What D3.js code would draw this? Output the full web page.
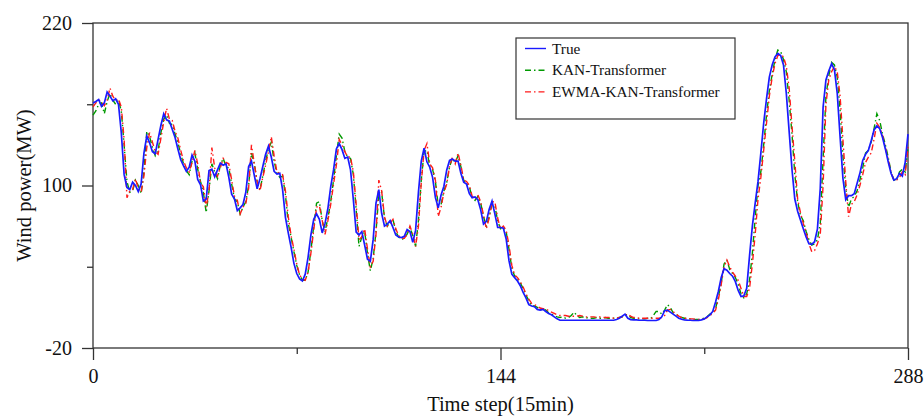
<!DOCTYPE html>
<style>
body { margin: 0; background: #fff; }
svg { font-family: "Liberation Serif", "Times New Roman", serif; }
</style>
<svg width="924" height="416"></svg>
<script src="https://d3js.org/d3.v7.min.js"></script>
<script>

// wind power (MW), one value per 15-min step, 0..288
var trueVals = [161,162,163.5,158.5,161,169,166,162.5,164,160,139,108,98.5,97,102.5,100,95.5,101,124,136.5,
  131.5,125,123.5,134,144.5,153,148.5,147.5,141.5,135.5,127,119,114.5,110.5,113.5,122.5,118,104.5,100.5,88.5,
  90,111,112,106.5,111.5,116.5,115,116,106,93.5,90,81.5,83.5,86,95,114,118,107.5,97.5,105,
  114,123,129,121,110.5,108.5,109,97,76.5,65,54.5,42.5,35,31,29.5,34.5,47,63.5,75,79,
  75,65,72,83,99,111.5,127,131,126.5,120,121,111.5,89.5,65.5,63.5,66,56,45.5,44,60,
  87,97,79.5,70,71.5,74,69,63.5,62,61.5,62.5,67.5,66,58,67,95,118,127.5,117.5,113.5,
  106,91,83.5,93,99.5,111.5,118.5,119.5,118,118,109,102.5,101,94,91,91.5,89.5,82,71.5,73.5,
  82.5,88.5,79,69,69,68.5,60.5,44.5,34.5,32,29.5,26,21,17,12,11,10.5,8.5,8,8.5,
  7,5.5,4.5,3,1.5,0.5,0.5,0.5,0.5,0.5,0.5,0.5,0.5,0.5,0.5,0.5,0.5,0.5,0.5,0.5,
  0.5,0.5,0.5,0.5,0.5,1,2,3.5,5,2,1,0.8,0.8,0.5,0.5,0.5,0.3,0.3,0.3,0.3,
  1,3,7.5,8,6.5,5,3.5,2,1.2,0.8,0.6,0.5,0.3,0.3,0.3,0.8,1.5,3,4.5,7,
  14,22,32,38.5,37.5,35,33,29,22.5,18,18.5,24,48,70,87,103,124,146,164,180,
  189,195,197.5,196,189,168,140,112,90,81,74.5,68,62,57,56.5,58.5,68,98,158,178,
  184.5,190,185.5,168,136,105.5,89.5,92.5,92.5,94,101.5,109,118.5,123,126,133,141,144,142,135.5,
  127,117.5,109,104,105,109,107,117,138];

var kanVals = [152,155,160,161,153,162,168,163,160,163,155,130,103,95,96,104,100,94,110,140,
  136,128,122,126,139,149,152,146,145,138,132,123,116,111,108,118,124,112,103,95,
  80,96,116,110,105,115,120,114,113,101,90,88,79,84,88,100,124,116,103,97,
  107,118,127,132,118,109,106,107,93,72,62,51,41,34,30,30,36,52,70,87,
  88,74,66,76,88,104,122,138,135,125,121,120,108,82,55,62,66,50,37,46,
  66,93,95,76,70,73,75,66,62,60,61,64,69,63,55,74,104,125,126,114,
  112,103,85,86,96,102,114,120,117,122,114,104,101,99,91,89,92,87,77,70,
  77,86,85,74,68,69,66,53,39,33,31,28,24,19,15,11,11,10,8,9,
  8,6,5,4,3,2.5,3,2,2.5,4,6.5,4,2.5,3,2,2.5,2,2,2.5,2,
  2,2.5,2,2,2,2,2.5,3,4.5,4.5,2.5,2,2,1.5,1.5,1.5,2,1.5,4,7,
  7,5,8,12,10,6,5,3.5,2.5,2,1.5,1.5,1.5,1,1,1.5,2,3,5,6,
  9,18,28,42,45,38,35,32,27,20,17,20,30,50,76,100,110,130,152,170,
  182,193,200,199,193,184,163,138,108,88,78,74,66,60,56,57,60,72,120,166,
  181,191,189,180,156,122,98,84,90,92,96,104,113,124,126,132,142,153,148,138,
  130,121,110,104,104,110,112,110,128];

var ewmaVals = [158,161,163,162,159,163,172,166,163,164,158,134,91,96,97,105,98,95,107,128,
  139,132,125,123,135,147,157,149,148,140,135,126,118,113,110,117,126,116,102,99,
  84,96,128,113,107,113,120,117,116,104,92,89,79,84,87,98,130,116,103,96,
  106,115,125,136,122,110,109,108,96,77,63,53,42,34,31,30,36,50,67,84,
  85,74,64,74,86,101,115,134,130,125,121,121,110,86,60,62,68,53,40,44,
  64,104,96,77,70,72,75,68,63,61,61,64,70,64,55,70,102,126,131,116,
  113,104,77,84,95,101,114,121,116,124,115,104,103,100,92,90,93,88,78,68,
  76,88,88,76,68,70,67,56,41,34,32,29,25,20,16,13,12,11,9.5,9,
  9,7.5,6.5,5.5,4.5,4,4,4,3.5,3.5,3.5,3.5,4,3.5,3,3,3,3,2.5,3,
  2.5,2.5,2.5,2.5,2,2,2.5,3,4,5,3.5,2.5,2.5,2,2,2,2,2,2,2,
  2,2.5,4,8,8.5,7,5,3.5,2.5,2,2,1.5,1.5,1,1,1,1.5,2.5,4,5.5,
  8,16,27,40,45,40,36,33,30,24,18,18,24,42,64,90,106,126,146,166,
  180,190,196,197,195,188,172,144,118,90,80,72,65,57,51,52,57,64,100,160,
  178,184,188,184,166,134,103,77,86,88,93,100,108,117,121,124,134,146,143,137,
  128,119,110,104,104,106,110,108,129];

var seriesNames = ["True", "KAN-Transformer", "EWMA-KAN-Transformer"];
var seriesColors = ["#1a1aff", "#009a00", "#ff1a1a"];
var seriesDash = [null, "6,3,1.5,3", "6,3,1.5,3"];

var yTicks = [220, 160, 100, 40, -20];
var yLabelled = [220, 100, -20];
var xTicks = [0, 72, 144, 216, 288];
var xLabelled = [0, 144, 288];

var svg = d3.select("svg");

var x = d3.scaleLinear().domain([0, 288]).range([93, 908]);
var y = d3.scaleLinear().domain([-20, 220]).range([348, 23]);

var line = d3.line()
    .x(function(d, i) { return x(i); })
    .y(function(d) { return y(d); });

// frame
svg.append("rect")
    .attr("x", x(0)).attr("y", y(220))
    .attr("width", x(288) - x(0)).attr("height", y(-20) - y(220))
    .attr("fill", "none").attr("stroke", "#333").attr("stroke-width", 1.3);

// y axis
var yAxis = svg.append("g")
    .attr("transform", "translate(" + x(0) + ",0)")
    .call(d3.axisLeft(y).tickValues(yTicks).tickSize(11).tickPadding(10)
      .tickFormat(function(d) { return yLabelled.indexOf(d) >= 0 ? d : ""; }));
yAxis.select(".domain").remove();
yAxis.selectAll(".tick line")
    .attr("stroke", "#333").attr("stroke-width", 1.3)
    .attr("x2", function(d) { return yLabelled.indexOf(d) >= 0 ? -11 : -6; });
yAxis.selectAll(".tick text")
    .attr("font-family", "Liberation Serif").attr("font-size", 20).attr("fill", "#111");

// x axis
var xAxis = svg.append("g")
    .attr("transform", "translate(0," + y(-20) + ")")
    .call(d3.axisBottom(x).tickValues(xTicks).tickSize(12).tickPadding(9)
      .tickFormat(function(d) { return xLabelled.indexOf(d) >= 0 ? d : ""; }));
xAxis.select(".domain").remove();
xAxis.selectAll(".tick line")
    .attr("stroke", "#333").attr("stroke-width", 1.3)
    .attr("y2", function(d) { return xLabelled.indexOf(d) >= 0 ? 12 : 6; });
xAxis.selectAll(".tick text")
    .attr("font-family", "Liberation Serif").attr("font-size", 20).attr("fill", "#111");

// axis titles
svg.append("text")
    .attr("x", x(144)).attr("y", 411)
    .attr("text-anchor", "middle")
    .attr("font-size", 20.5).attr("fill", "#111")
    .text("Time step(15min)");

svg.append("text")
    .attr("transform", "translate(31," + y(100) + ") rotate(-90)")
    .attr("text-anchor", "middle")
    .attr("font-size", 20.5).attr("fill", "#111")
    .text("Wind power(MW)");

// lines: predictions first, true on top
var allData = [trueVals, kanVals, ewmaVals];
[1, 2, 0].forEach(function(k) {
  svg.append("path")
      .datum(allData[k])
      .attr("d", line)
      .attr("fill", "none")
      .attr("stroke", seriesColors[k])
      .attr("stroke-width", k === 0 ? 1.7 : 1.4)
      .attr("stroke-dasharray", seriesDash[k]);
});

// legend
var legend = svg.append("g").attr("transform", "translate(516,38)");
legend.append("rect")
    .attr("width", 219).attr("height", 81)
    .attr("fill", "#fff").attr("stroke", "#333").attr("stroke-width", 1.2);

var item = legend.selectAll("g.item")
    .data(seriesNames)
    .enter().append("g")
      .attr("class", "item")
      .attr("transform", function(d, i) { return "translate(0," + (10.5 + i * 21.7) + ")"; });

item.append("line")
    .attr("x1", 9).attr("x2", 30)
    .attr("stroke", function(d, i) { return seriesColors[i]; })
    .attr("stroke-width", 1.4)
    .attr("stroke-dasharray", function(d, i) { return seriesDash[i]; });

item.append("text")
    .attr("x", 36).attr("dy", "0.33em")
    .attr("font-size", 15.3).attr("fill", "#111")
    .text(function(d) { return d; });

</script>
